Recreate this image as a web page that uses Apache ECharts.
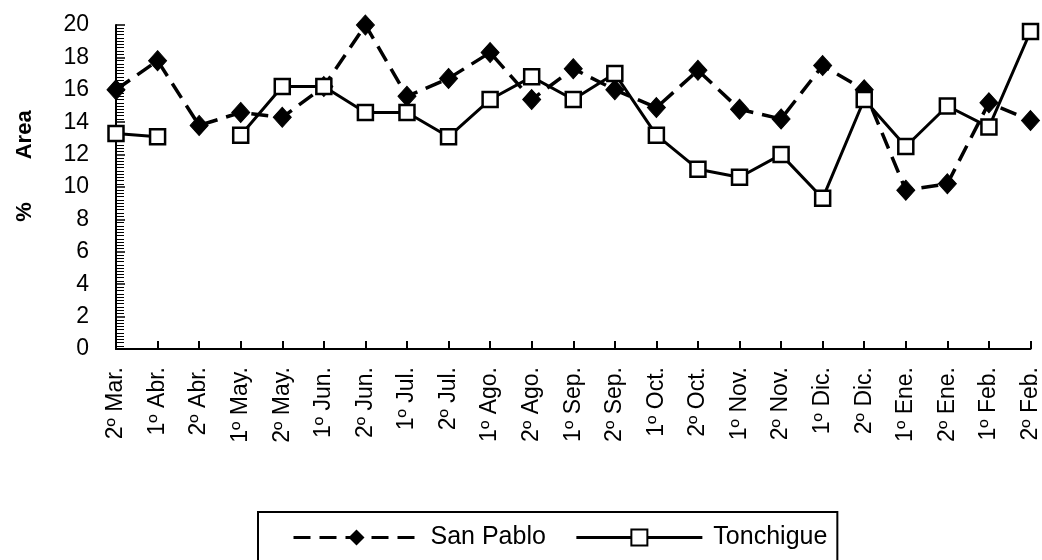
<!DOCTYPE html>
<html>
<head>
<meta charset="utf-8">
<script src="https://cdn.jsdelivr.net/npm/echarts@6/dist/echarts.min.js"></script>
<style>
html,body{margin:0;padding:0;background:#fff;}
#chart{width:1042px;height:560px;}
</style>
</head>
<body>
<div id="chart"></div>
<script>
var categories = ['2º Mar.','1º Abr.','2º Abr.','1º May.','2º May.','1º Jun.','2º Jun.','1º Jul.','2º Jul.','1º Ago.','2º Ago.','1º Sep.','2º Sep.','1º Oct.','2º Oct.','1º Nov.','2º Nov.','1º Dic.','2º Dic.','1º Ene.','2º Ene.','1º Feb.','2º Feb.'];
var sanPablo = [16.0,17.8,13.8,14.6,14.3,16.2,20.0,15.6,16.7,18.3,15.4,17.3,16.0,14.9,17.2,14.8,14.2,17.5,16.0,9.8,10.2,15.2,14.1];
var tonchigue = [13.3,13.1,null,13.2,16.2,16.2,14.6,14.6,13.1,15.4,16.8,15.4,17.0,13.2,11.1,10.6,12.0,9.3,15.4,12.5,15.0,13.7,19.6];
var yTicks = {min:0, max:20, interval:2};

var FONT = '"Liberation Sans", Arial, sans-serif';
var chart = echarts.init(document.getElementById('chart'), null, {renderer:'canvas'});
chart.setOption({
  animation:false,
  backgroundColor:'#fff',
  textStyle:{fontFamily:FONT, color:'#000'},
  grid:{left:116, right:9, top:25, bottom:211, containLabel:false},
  legend:{
    left:258, top:512,
    padding:[13,10,30,34],
    itemWidth:126, itemHeight:20, itemGap:29,
    borderColor:'#000', borderWidth:2,
    lineStyle:{width:3},
    textStyle:{fontFamily:FONT, fontSize:25, color:'#000', padding:[0,0,0,6]},
    data:['San Pablo','Tonchigue']
  },
  xAxis:{
    type:'category',
    data:categories,
    boundaryGap:false,
    axisLine:{lineStyle:{color:'#000', width:2}},
    axisTick:{inside:true, length:8, lineStyle:{color:'#000', width:2}},
    axisLabel:{rotate:90, margin:18, fontSize:23, color:'#000', fontFamily:FONT, interval:0},
    splitLine:{show:false}
  },
  yAxis:{
    type:'value',
    min:yTicks.min, max:yTicks.max, interval:yTicks.interval,
    name:'%       Area',
    nameLocation:'middle',
    nameRotate:90,
    nameGap:80,
    nameTextStyle:{fontFamily:FONT, fontSize:22, fontWeight:'bold', color:'#000', padding:[0,0,0,42]},
    axisLine:{show:true, lineStyle:{color:'#000', width:2}},
    axisTick:{show:true, inside:true, length:9, lineStyle:{color:'#000', width:1.5}},
    minorTick:{show:true, splitNumber:10, length:8, lineStyle:{color:'#000', width:1}},
    axisLabel:{margin:27, fontSize:23, color:'#000', fontFamily:FONT},
    splitLine:{show:false}
  },
  series:[
    {
      name:'San Pablo', type:'line', data:sanPablo,
      symbol:'diamond', symbolSize:[18,20],
      itemStyle:{color:'#000', borderColor:'#000'},
      lineStyle:{color:'#000', width:3.5, type:[17,9]},
      z:3
    },
    {
      name:'Tonchigue', type:'line', data:tonchigue,
      connectNulls:false,
      symbol:'rect', symbolSize:15,
      itemStyle:{color:'#fff', borderColor:'#000', borderWidth:2.5},
      lineStyle:{color:'#000', width:3},
      z:4
    }
  ]
});
</script>
</body>
</html>
